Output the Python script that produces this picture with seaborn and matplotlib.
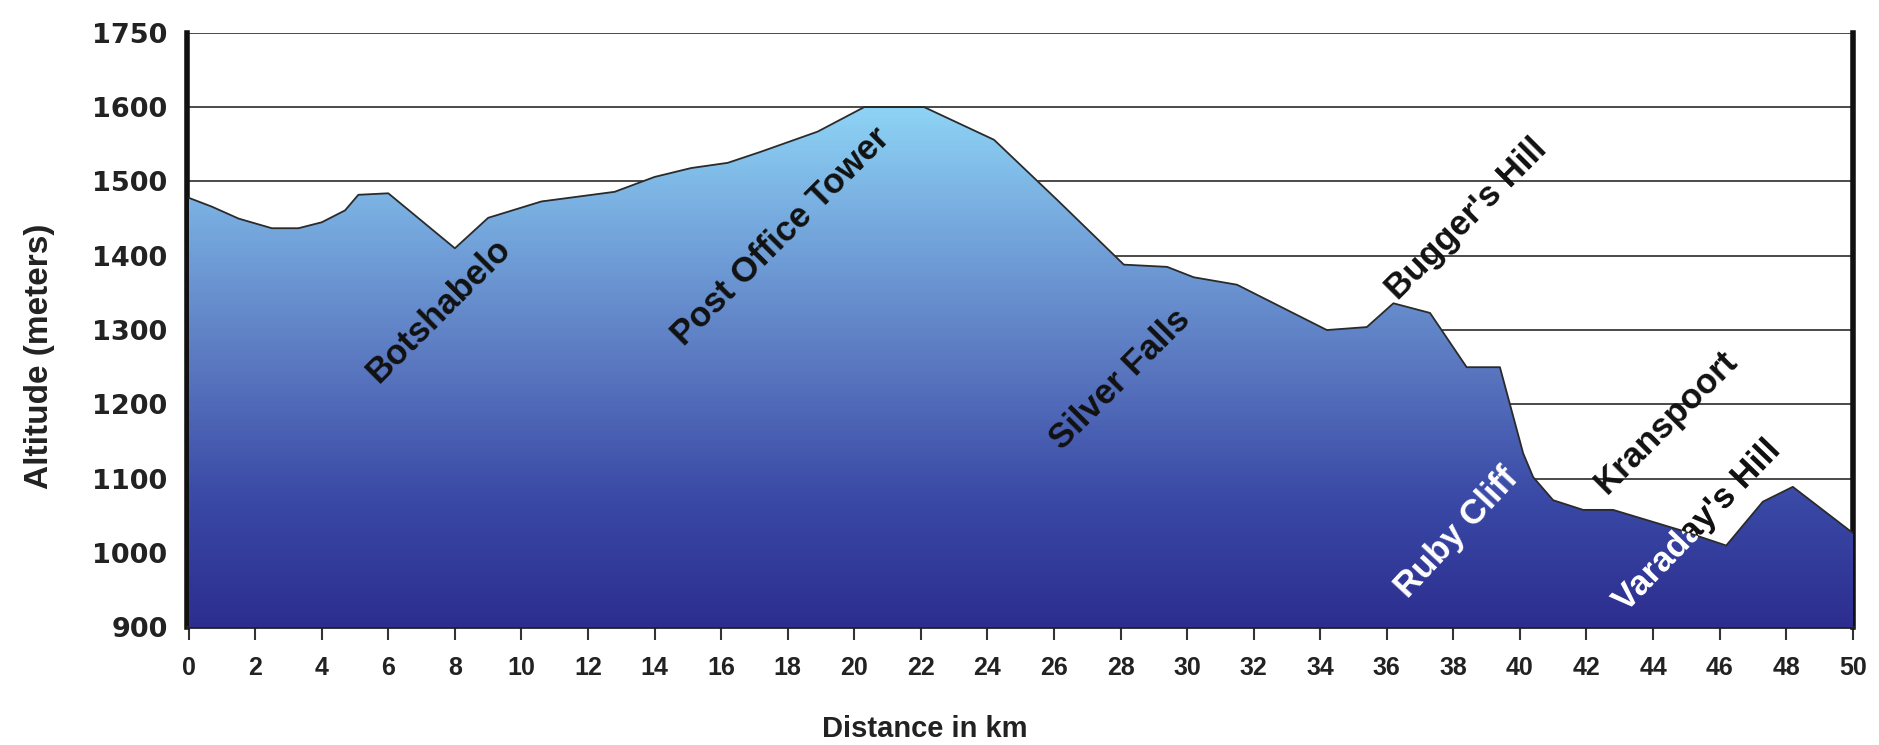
import numpy as np
import pandas as pd
import seaborn as sns
import matplotlib.pyplot as plt
from matplotlib.colors import LinearSegmentedColormap
from matplotlib.textpath import TextPath
from matplotlib.patches import PathPatch
from matplotlib.font_manager import FontProperties
from matplotlib.transforms import Affine2D, IdentityTransform

# elevation profile
km = [0, 0.7, 1.5, 2.5, 3.3, 4.0, 4.7, 5.1, 6.0, 8.0, 9.0, 10.6, 12.8, 14.0,
      15.1, 16.2, 17.2, 18.9, 20.3, 22.1, 24.2, 26.1, 28.1, 29.4, 30.2, 31.5,
      34.2, 35.4, 36.2, 37.3, 38.4, 39.4, 40.1, 40.4, 41.0, 41.9, 42.8, 44.8,
      46.2, 47.3, 48.2, 50]
altitude = [1478, 1466, 1450, 1437, 1437, 1445, 1461, 1482, 1484, 1410, 1451,
            1473, 1486, 1506, 1518, 1525, 1540, 1567, 1600, 1600, 1556, 1475,
            1388, 1385, 1371, 1361, 1300, 1304, 1336, 1323, 1250, 1250, 1134,
            1102, 1071, 1058, 1058, 1031, 1010, 1069, 1089, 1027]

ytick_vals = [900, 1000, 1100, 1200, 1300, 1400, 1500, 1600, 1750]
xtick_vals = list(range(0, 51, 2))

place_names = ["Botshabelo", "Post Office Tower", "Silver Falls", "Bugger's Hill",
               "Kranspoort", "Ruby Cliff", "Varaday's Hill"]
place_km = [7.5, 17.8, 28.0, 38.4, 44.4, 38.1, 45.3]
place_alt = [1327, 1425, 1233, 1449, 1176, 1027, 1035]

df = pd.DataFrame({"km": km, "altitude": altitude})

sns.set_theme(style="white")
plt.rcParams["font.family"] = ["Liberation Sans", "DejaVu Sans"]

fig = plt.figure(figsize=(18.79, 7.45), dpi=100)
ax = fig.add_axes([0.0995, 0.158, 0.8865, 0.798])


# axis labels are evenly spaced, so the band above 1600 is squeezed
def fwd(y):
    y = np.asarray(y, dtype=float)
    return np.where(y <= 1600, y, 1600 + (y - 1600) * 2 / 3)


def inv(v):
    v = np.asarray(v, dtype=float)
    return np.where(v <= 1600, v, 1600 + (v - 1600) * 1.5)


ax.set_yscale("function", functions=(fwd, inv))
ax.set_xlim(-0.05, 50)
ax.set_ylim(900, 1750)

# gridlines behind the terrain
ax.hlines(ytick_vals[1:], 0, 50, color="#4a4a4a", lw=1.4, zorder=1)

# terrain shape, filled with a vertical gradient
poly = ax.fill_between(df["km"], 900, df["altitude"], color="none", zorder=3)
terrain = poly.get_paths()[0]
cmap = LinearSegmentedColormap.from_list(
    "sky", ["#2c2d8f", "#3a4aa6", "#5a78c0", "#74a6dc", "#8fd6f6"])
gy = np.linspace(900, 1610, 300)
gx = np.array([0, 50])
mesh = ax.pcolormesh(gx, gy, gy[:-1, None], cmap=cmap, vmin=900, vmax=1610,
                     shading="flat", zorder=3)
mesh.set_clip_path(terrain, transform=ax.transData)

sns.lineplot(data=df, x="km", y="altitude", color="#2a2a2a", lw=1.3, ax=ax,
             zorder=4)

# place names
fp = FontProperties(family="Liberation Sans", weight="bold")
label_kw = dict(rotation_mode="anchor", ha="center", va="center",
                fontsize=25, fontweight="bold")
for name, x, y in zip(place_names, place_km, place_alt):
    if name == "Ruby Cliff":
        ax.text(x, y, name, rotation=47, color="white", zorder=6, **label_kw)
    elif name == "Varaday's Hill":
        # black on the white sky, white where it sits on the terrain
        tp = TextPath((0, 0), name, size=25, prop=fp)
        ext = tp.get_extents()
        cx = (ext.x0 + ext.x1) / 2
        cy = (ext.y0 + ext.y1) / 2
        px, py = ax.transData.transform((x, y))
        tr = (Affine2D().translate(-cx, -cy).scale(fig.dpi / 72)
              .rotate_deg(46).translate(px, py))
        black = PathPatch(tr.transform_path(tp), facecolor="#111111",
                          edgecolor="none", transform=IdentityTransform(),
                          zorder=2)
        white = PathPatch(tr.transform_path(tp), facecolor="white",
                          edgecolor="none", transform=IdentityTransform(),
                          zorder=6)
        ax.add_artist(black)
        ax.add_artist(white)
        white.set_clip_path(terrain, transform=ax.transData)
    else:
        ax.text(x, y, name, rotation=45, color="#111111", zorder=6, **label_kw)

ax.set_yticks(ytick_vals)
ax.set_yticklabels([str(v) for v in ytick_vals], fontsize=19.5,
                   fontweight="bold", color="#222222", family="DejaVu Sans")
ax.set_xticks(xtick_vals)
ax.set_xticklabels([str(v) for v in xtick_vals], fontsize=18,
                   fontweight="bold", color="#222222")
ax.tick_params(axis="y", length=0, pad=14)
ax.tick_params(axis="x", direction="out", length=9, width=1.5,
               color="#333333", pad=12, bottom=True)

for side in ["left", "right"]:
    ax.spines[side].set_visible(True)
    ax.spines[side].set_color("#111111")
    ax.spines[side].set_linewidth(4)
ax.spines["bottom"].set_color("#222222")
ax.spines["bottom"].set_linewidth(2)
ax.spines["top"].set_visible(False)

ax.set_xlabel("Distance in km", fontsize=21, fontweight="bold",
              color="#222222")
ax.set_ylabel("Altitude (meters)", fontsize=24, fontweight="bold",
              color="#222222")
ax.xaxis.set_label_coords(0.443, -0.148)
ax.yaxis.set_label_coords(-0.079, 0.455)

fig.savefig("out.png", dpi=100)
